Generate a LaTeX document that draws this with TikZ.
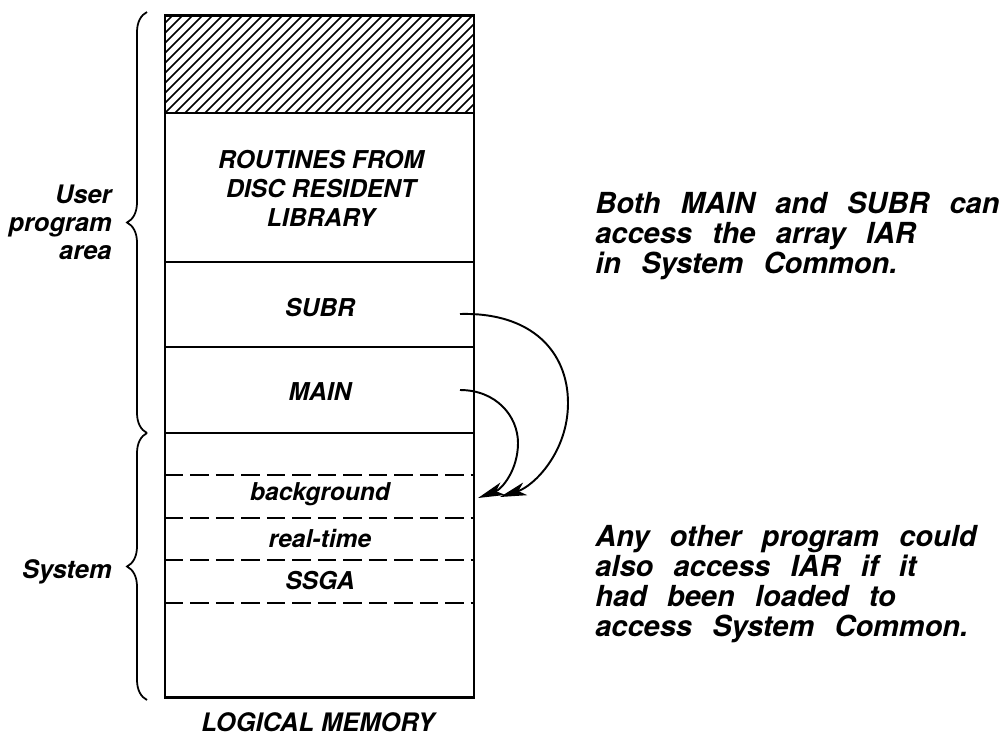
\documentclass[tikz,border=0pt]{standalone}
\usepackage{fontspec}
\setmainfont{TeX Gyre Heros}
\usepackage{tikz}
\usetikzlibrary{arrows.meta,decorations.pathreplacing}

\begin{document}
\begin{tikzpicture}[x=0.02cm,y=-0.02cm,
    boxtext/.style={font=\bfseries\itshape\fontsize{14}{16.5}\selectfont,align=center},
    sidetext/.style={font=\bfseries\itshape\fontsize{14.5}{16}\selectfont,align=right,anchor=east,inner sep=0pt},
    notetext/.style={font=\bfseries\itshape\fontsize{16.5}{17.2}\selectfont,
      execute at begin node={\spaceskip=0.7em\relax},align=left,anchor=west,inner sep=0pt},
    divider/.style={line width=1.4pt},
    softdiv/.style={line width=1.3pt,dash pattern=on 10.5pt off 4pt},
    bracket/.style={decorate,decoration={brace,amplitude=0.4cm},line width=1pt},
    access/.style={line width=1.1pt,-{Stealth[length=15pt,width=7.5pt,inset=4pt]}}]
  \useasboundingbox (0,0) rectangle (1008,735);

  % hatched unused area at the top
  \begin{scope}
    \clip (165,15) rectangle (474,113);
    \foreach \x in {-100,-90,...,320}
      \draw[line width=0.9pt] (165+\x,113) -- (263+\x,15);
  \end{scope}

  % memory partitions
  \draw[divider] (165,113) -- (474,113);
  \draw[divider] (165,262) -- (474,262);
  \draw[divider] (165,347) -- (474,347);
  \draw[divider] (165,433) -- (474,433);
  \foreach \y in {475,518,560,603}
    \draw[softdiv] (165,\y) -- (474,\y);
  \draw[line width=1.7pt] (165,15) rectangle (474,697);

  \node[boxtext] (routines) at (321,188) {ROUTINES FROM\\DISC RESIDENT\\LIBRARY};
  \node[boxtext] (subr) at (320,308) {SUBR};
  \node[boxtext] (main) at (320,392) {MAIN};
  \node[boxtext] (bg) at (320,494) {background};
  \node[boxtext] (rt) at (320,538) {real-time};
  \node[boxtext] (ssga) at (320,581) {SSGA};
  \node[boxtext,font=\bfseries\itshape\fontsize{14.5}{16}\selectfont] (caption) at (318,722) {LOGICAL MEMORY};

  % braces and their labels
  \draw[bracket] (147,433) -- (147,12);
  \draw[bracket] (147,700) -- (147,433);
  \node[sidetext] (userlbl) at (112,222) {User\\program\\area};
  \node[sidetext] (syslbl) at (112,572) {System};

  % common area accessed from both routines
  \coordinate (subr out) at (460,314);
  \coordinate (main out) at (460,390);
  \coordinate (common far) at (500,497);
  \coordinate (common near) at (478,498);
  \draw[access] (subr out) .. controls (532,312) and (568,352) .. (568,403)
    .. controls (568,452) and (534,486) .. (common far);
  \draw[access] (main out) .. controls (496,390) and (518,416) .. (518,443)
    .. controls (518,470) and (502,489) .. (common near);

  \node[notetext] (note1) at (595,236) {Both MAIN and SUBR can\\access the array IAR\\in System Common.};
  \node[notetext] (note2) at (595,584) {Any other program could\\also access IAR if it\\had been loaded to\\access System Common.};
\end{tikzpicture}
\end{document}
